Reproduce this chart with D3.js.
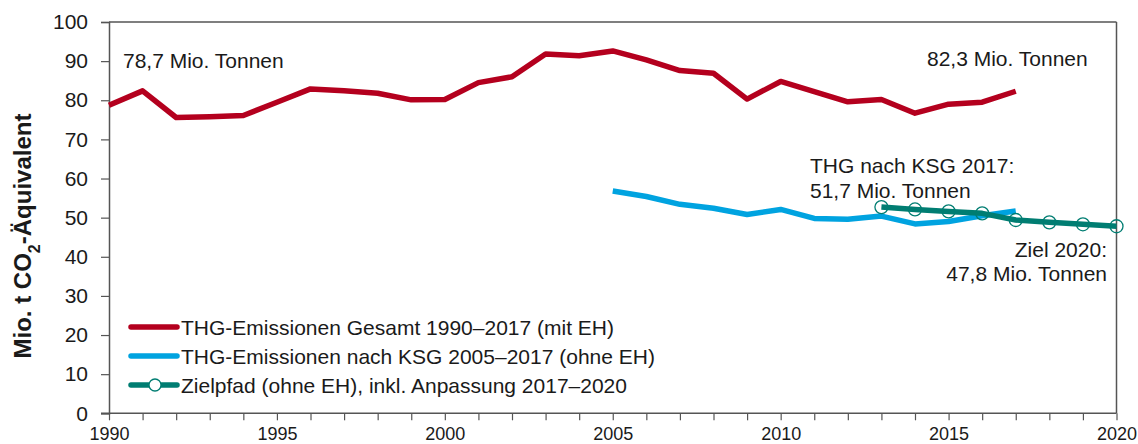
<!DOCTYPE html>
<html>
<head>
<meta charset="utf-8">
<script src="https://cdn.jsdelivr.net/npm/d3@7"></script>
<style>
  html, body { margin: 0; padding: 0; background: #fff; }
  svg { display: block; font-family: "Liberation Sans", Arial, sans-serif; }
</style>
</head>
<body>
<svg id="chart" width="1138" height="444"></svg>
<script>
// ---- data ----
const yearsGesamt = [1990,1991,1992,1993,1994,1995,1996,1997,1998,1999,2000,2001,2002,2003,2004,2005,2006,2007,2008,2009,2010,2011,2012,2013,2014,2015,2016,2017];
const gesamt = [78.7,82.4,75.6,75.8,76.1,79.5,82.9,82.4,81.8,80.1,80.2,84.5,86.0,91.8,91.4,92.6,90.3,87.6,86.9,80.3,84.8,82.2,79.6,80.2,76.7,79.0,79.5,82.3];
const yearsKSG = [2005,2006,2007,2008,2009,2010,2011,2012,2013,2014,2015,2016,2017];
const ksg = [56.8,55.4,53.4,52.4,50.8,52.1,49.8,49.6,50.4,48.4,49.0,50.5,51.7];
const yearsZiel = [2013,2014,2015,2016,2017,2018,2019,2020];
const ziel = [52.7,52.1,51.6,51.1,49.4,48.8,48.3,47.8];
const yTicks = [0,10,20,30,40,50,60,70,80,90,100];
const xLabelTicks = [1990,1995,2000,2005,2010,2015,2020];
const legendLabels = [
  "THG-Emissionen Gesamt 1990\u20132017 (mit EH)",
  "THG-Emissionen nach KSG 2005\u20132017 (ohne EH)",
  "Zielpfad (ohne EH), inkl. Anpassung 2017\u20132020"
];
const colors = ["#B4001E", "#00A3E0", "#007D72"];

// ---- layout ----
const svg = d3.select("#chart");
const pLeft = 109, pRight = 1116.5, pTop = 22, pBottom = 413.3;
const x = d3.scaleLinear().domain([1990, 2020]).range([pLeft, pRight]);
const y = d3.scaleLinear().domain([0, 100]).range([pBottom, pTop]);
const axisColor = "#555";
const textColor = "#1a1a1a";

// frame (top and right)
svg.append("line").attr("x1", pLeft).attr("x2", pRight).attr("y1", pTop).attr("y2", pTop)
  .attr("stroke", axisColor).attr("stroke-width", 1.5);
svg.append("line").attr("x1", pRight).attr("x2", pRight).attr("y1", pTop).attr("y2", pBottom)
  .attr("stroke", axisColor).attr("stroke-width", 1.5);

// y axis
const yAxis = svg.append("g").attr("transform", `translate(${pLeft},0)`)
  .call(d3.axisLeft(y).tickValues(yTicks).tickSize(8).tickPadding(13).tickFormat(d3.format("d")));
yAxis.select(".domain").attr("stroke", axisColor).attr("stroke-width", 1.5);
yAxis.selectAll(".tick line").attr("stroke", axisColor).attr("stroke-width", 1.2);
yAxis.selectAll(".tick text").attr("fill", textColor).style("font-size", "21px")
  .style("font-family", "'Liberation Sans', Arial, sans-serif");

// x axis: minor ticks every year, labels every 5
const allYears = d3.range(1990, 2021);
const xAxis = svg.append("g").attr("transform", `translate(0,${pBottom})`)
  .call(d3.axisBottom(x).tickValues(allYears).tickSize(7).tickPadding(7)
    .tickFormat(d => xLabelTicks.includes(d) ? String(d) : ""));
xAxis.select(".domain").attr("stroke", axisColor).attr("stroke-width", 1.5)
  .attr("d", `M${pLeft - 8},0H${pRight}`);
xAxis.selectAll(".tick line").attr("stroke", axisColor).attr("stroke-width", 1.2);
xAxis.selectAll(".tick text").attr("fill", textColor).style("font-size", "18px")
  .style("font-family", "'Liberation Sans', Arial, sans-serif");

// y axis title
svg.append("text")
  .attr("transform", "translate(31,236) rotate(-90)")
  .attr("text-anchor", "middle")
  .attr("fill", textColor)
  .style("font-size", "24px").style("font-weight", "bold")
  .call(t => {
    t.append("tspan").text("Mio. t CO");
    t.append("tspan").text("2").attr("baseline-shift", "sub").style("font-size", "16px");
    t.append("tspan").text("-Äquivalent");
  });

// lines
const line = d3.line().x(d => x(d[0])).y(d => y(d[1]));
const series = [
  yearsGesamt.map((yr, i) => [yr, gesamt[i]]),
  yearsKSG.map((yr, i) => [yr, ksg[i]]),
  yearsZiel.map((yr, i) => [yr, ziel[i]])
];
series.forEach((s, i) => {
  svg.append("path").datum(s).attr("d", line)
    .attr("fill", "none").attr("stroke", colors[i]).attr("stroke-width", 5.5)
    .attr("stroke-linejoin", "round");
});
svg.append("g").selectAll("circle").data(series[2]).join("circle")
  .attr("cx", d => x(d[0])).attr("cy", d => y(d[1])).attr("r", 6.5)
  .attr("fill", "none").attr("stroke", colors[2]).attr("stroke-width", 1.3);

// annotations
const annos = [
  { t: "78,7 Mio. Tonnen", x: 123, y: 68, a: "start" },
  { t: "82,3 Mio. Tonnen", x: 927, y: 66, a: "start" },
  { t: "THG nach KSG 2017:", x: 810, y: 173, a: "start" },
  { t: "51,7 Mio. Tonnen", x: 810, y: 198, a: "start" },
  { t: "Ziel 2020:", x: 1107, y: 257, a: "end" },
  { t: "47,8 Mio. Tonnen", x: 1107, y: 281, a: "end" }
];
svg.append("g").selectAll("text").data(annos).join("text")
  .attr("x", d => d.x).attr("y", d => d.y).attr("text-anchor", d => d.a)
  .attr("fill", textColor).style("font-size", "21px").text(d => d.t);

// legend
const legY = [327, 356, 385];
const leg = svg.append("g");
legendLabels.forEach((lab, i) => {
  leg.append("line").attr("x1", 131).attr("x2", 177).attr("y1", legY[i]).attr("y2", legY[i])
    .attr("stroke", colors[i]).attr("stroke-width", 5.5).attr("stroke-linecap", "round");
  if (i === 2) {
    leg.append("circle").attr("cx", 155).attr("cy", legY[i]).attr("r", 6)
      .attr("fill", "#fff").attr("stroke", colors[i]).attr("stroke-width", 1.3);
  }
  leg.append("text").attr("x", 181).attr("y", legY[i] + 7.5)
    .attr("fill", textColor).style("font-size", "21px").text(lab);
});
</script>
</body>
</html>
